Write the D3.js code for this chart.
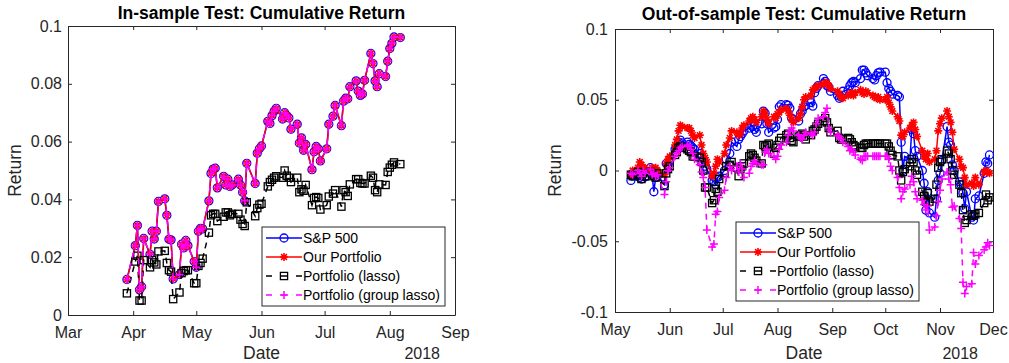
<!DOCTYPE html>
<html>
<head>
<meta charset="utf-8">
<script src="https://cdn.jsdelivr.net/npm/d3@7"></script>
<style>
  body { margin: 0; background: #fff; }
  svg { font-family: "Liberation Sans", Arial, sans-serif; }
</style>
</head>
<body>
<div id="chart"></div>
<script>
// ---- data ----
var holidays = ["2018-03-30", "2018-05-28", "2018-07-04", "2018-09-03", "2018-11-22"];

// in-sample: trading days 2018-03-29 .. 2018-08-06, one row per week
var in_sp500 = [
  0.0123,
  0.0240, 0.0310, 0.0087, 0.0098, 0.0265,
  0.0210, 0.0290, 0.0263, 0.0290, 0.0393,
  0.0402, 0.0345, 0.0262, 0.0260, 0.0125,
  0.0140, 0.0245, 0.0232, 0.0258, 0.0240,
  0.0185, 0.0165, 0.0290, 0.0300, 0.0298,
  0.0395, 0.0490, 0.0505, 0.0508, 0.0440,
  0.0480, 0.0450, 0.0470, 0.0445, 0.0450,
  0.0470, 0.0450, 0.0425, 0.0395, 0.0525,
  0.0455, 0.0560, 0.0575, 0.0585,
  0.0670, 0.0663, 0.0690, 0.0705, 0.0715,
  0.0678, 0.0700, 0.0690, 0.0682, 0.0643,
  0.0660, 0.0595, 0.0613, 0.0570, 0.0590,
  0.0503, 0.0565, 0.0583, 0.0575, 0.0533,
  0.0575, 0.0660, 0.0688, 0.0725,
  0.0655, 0.0740, 0.0750, 0.0748, 0.0790,
  0.0810, 0.0775, 0.0760, 0.0765, 0.0812,
  0.0905, 0.0870, 0.0810, 0.0790, 0.0835,
  0.0825, 0.0878, 0.0922, 0.0940, 0.0962,
  0.0960
];
// our portfolio and group lasso coincide with the index in-sample
var in_ours = in_sp500.slice();
var in_group = in_sp500.slice();
var in_lasso = [
  0.0075,
  0.0185, 0.0205, 0.0050, 0.0050, 0.0190,
  0.0165, 0.0190, 0.0182, 0.0175, 0.0220,
  0.0222, 0.0180, 0.0155, 0.0150, 0.0055,
  0.0078, 0.0145, 0.0152, 0.0155, 0.0155,
  0.0110, 0.0110, 0.0170, 0.0180, 0.0195,
  0.0285, 0.0345, 0.0350, 0.0350, 0.0325,
  0.0340, 0.0355, 0.0355, 0.0345, 0.0350,
  0.0350, 0.0330, 0.0315, 0.0308, 0.0390,
  0.0342, 0.0370, 0.0382, 0.0385,
  0.0445, 0.0460, 0.0468, 0.0475, 0.0480,
  0.0475, 0.0500, 0.0482, 0.0475, 0.0460,
  0.0475, 0.0425, 0.0435, 0.0430, 0.0450,
  0.0380, 0.0405, 0.0408, 0.0405, 0.0365,
  0.0380, 0.0410, 0.0420, 0.0432,
  0.0375, 0.0432, 0.0425, 0.0412, 0.0452,
  0.0470, 0.0470, 0.0457, 0.0455, 0.0455,
  0.0482, 0.0475, 0.0432, 0.0425, 0.0452,
  0.0450, 0.0495, 0.0510, 0.0520, 0.0528,
  0.0522
];

// out-of-sample: trading days 2018-05-10 .. 2018-11-29, one row per week
var out_sp500 = [
  -0.0070, -0.0040,
  -0.0030, -0.0050, -0.0060, -0.0025, -0.0045,
  0.0020, -0.0030, -0.0150, -0.0050, -0.0040,
  -0.0100, 0.0050, 0.0040, 0.0070,
  0.0150, 0.0170, 0.0200, 0.0215, 0.0195,
  0.0200, 0.0185, 0.0175, 0.0160, 0.0150,
  0.0120, 0.0100, 0.0080, 0.0030, 0.0010,
  -0.0070, -0.0080, -0.0100, -0.0050, -0.0040,
  0.0000, 0.0080, 0.0120, 0.0200,
  0.0170, 0.0220, 0.0240, 0.0260, 0.0280,
  0.0300, 0.0320, 0.0310, 0.0290, 0.0270,
  0.0330, 0.0420, 0.0405, 0.0330, 0.0270,
  0.0300, 0.0310, 0.0360, 0.0450, 0.0465,
  0.0465, 0.0460, 0.0440, 0.0370, 0.0360,
  0.0350, 0.0400, 0.0420, 0.0450, 0.0460,
  0.0480, 0.0455, 0.0550, 0.0580, 0.0600,
  0.0650, 0.0630, 0.0600, 0.0590, 0.0560,
  0.0530, 0.0510, 0.0520, 0.0560,
  0.0570, 0.0600, 0.0620, 0.0630, 0.0620,
  0.0650, 0.0710, 0.0710, 0.0690, 0.0670,
  0.0650, 0.0640, 0.0670, 0.0690, 0.0695,
  0.0695, 0.0620, 0.0580, 0.0560, 0.0540,
  0.0530, 0.0520, 0.0200, 0.0000, 0.0100,
  0.0080, 0.0290, 0.0260, 0.0140, 0.0100,
  0.0000, -0.0090, -0.0280, -0.0150, -0.0300,
  -0.0330, -0.0200, -0.0070, -0.0020, 0.0070,
  0.0310, 0.0200, 0.0180, 0.0040, 0.0000,
  -0.0080, -0.0100, -0.0160, -0.0270, -0.0150,
  -0.0330, -0.0350, -0.0200, -0.0180,
  -0.0020, 0.0060, 0.0050, 0.0110
];
var out_ours = [
  -0.0030, 0.0000,
  0.0020, 0.0060, 0.0040, 0.0010, 0.0020,
  0.0000, 0.0020, 0.0010, 0.0020, 0.0000,
  -0.0030, 0.0050, 0.0080, 0.0100,
  0.0180, 0.0220, 0.0280, 0.0320, 0.0310,
  0.0300, 0.0300, 0.0280, 0.0250, 0.0230,
  0.0250, 0.0180, 0.0120, 0.0090, 0.0060,
  -0.0040, -0.0020, 0.0030, 0.0080, 0.0060,
  0.0120, 0.0180, 0.0230, 0.0280,
  0.0270, 0.0250, 0.0260, 0.0300, 0.0320,
  0.0350, 0.0370, 0.0380, 0.0360, 0.0340,
  0.0380, 0.0420, 0.0400, 0.0360, 0.0330,
  0.0380, 0.0370, 0.0400, 0.0410, 0.0430,
  0.0440, 0.0420, 0.0390, 0.0360, 0.0340,
  0.0370, 0.0400, 0.0450, 0.0500, 0.0520,
  0.0530, 0.0570, 0.0580, 0.0590, 0.0600,
  0.0610, 0.0620, 0.0620, 0.0600, 0.0580,
  0.0560, 0.0540, 0.0520, 0.0510,
  0.0530, 0.0540, 0.0550, 0.0530, 0.0550,
  0.0570, 0.0550, 0.0540, 0.0560, 0.0550,
  0.0530, 0.0520, 0.0510, 0.0520, 0.0500,
  0.0500, 0.0520, 0.0480, 0.0450, 0.0420,
  0.0380, 0.0350, 0.0250, 0.0240, 0.0270,
  0.0300, 0.0320, 0.0340, 0.0290, 0.0240,
  0.0140, 0.0100, 0.0080, 0.0120, 0.0060,
  0.0080, 0.0140, 0.0280, 0.0330, 0.0370,
  0.0420, 0.0380, 0.0340, 0.0270, 0.0150,
  0.0080, 0.0030, 0.0020, -0.0050, -0.0100,
  -0.0090, -0.0110, -0.0050, -0.0100,
  -0.0010, 0.0000, -0.0010, -0.0020
];
var out_lasso = [
  -0.0030, -0.0040,
  -0.0010, -0.0040, -0.0060, -0.0020, -0.0040,
  -0.0010, -0.0040, -0.0030, -0.0050, -0.0020,
  -0.0110, -0.0020, 0.0010, 0.0030,
  0.0110, 0.0130, 0.0160, 0.0170, 0.0160,
  0.0150, 0.0140, 0.0130, 0.0100, 0.0100,
  0.0090, 0.0060, 0.0000, -0.0120, -0.0120,
  -0.0230, -0.0210, -0.0130, -0.0150, -0.0060,
  -0.0020, 0.0030, 0.0040, 0.0060,
  0.0020, -0.0040, 0.0010, 0.0030, 0.0050,
  0.0100, 0.0120, 0.0110, 0.0090, 0.0070,
  0.0050, 0.0180, 0.0170, 0.0180, 0.0190,
  0.0120, 0.0160, 0.0180, 0.0210, 0.0230,
  0.0250, 0.0260, 0.0230, 0.0210, 0.0200,
  0.0240, 0.0250, 0.0260, 0.0240, 0.0220,
  0.0250, 0.0280, 0.0290, 0.0310, 0.0330,
  0.0350, 0.0370, 0.0340, 0.0300, 0.0270,
  0.0280, 0.0230, 0.0220, 0.0220,
  0.0230, 0.0220, 0.0200, 0.0180, 0.0170,
  0.0160, 0.0160, 0.0180, 0.0190, 0.0190,
  0.0190, 0.0190, 0.0190, 0.0190, 0.0190,
  0.0190, 0.0190, 0.0170, 0.0140, 0.0110,
  0.0100, 0.0000, -0.0070, -0.0010, 0.0010,
  0.0030, 0.0080, 0.0060, 0.0000, -0.0030,
  -0.0150, -0.0180, -0.0220, -0.0160, -0.0220,
  -0.0200, -0.0100, 0.0020, 0.0060, 0.0080,
  0.0140, 0.0120, 0.0080, 0.0000, -0.0030,
  -0.0100, -0.0160, -0.0280, -0.0370, -0.0350,
  -0.0310, -0.0320, -0.0310, -0.0300,
  -0.0230, -0.0170, -0.0210, -0.0190
];
var out_group = [
  -0.0020, -0.0030,
  0.0000, -0.0020, -0.0040, 0.0000, -0.0020,
  0.0010, -0.0030, -0.0020, -0.0040, -0.0030,
  -0.0170, -0.0080, 0.0000, 0.0020,
  0.0100, 0.0120, 0.0140, 0.0160, 0.0170,
  0.0180, 0.0170, 0.0150, 0.0120, 0.0080,
  0.0040, -0.0010, -0.0050, -0.0120, -0.0420,
  -0.0540, -0.0520, -0.0310, -0.0290, -0.0190,
  -0.0140, -0.0050, 0.0030, 0.0000,
  0.0030, -0.0010, 0.0050, 0.0010, -0.0050,
  -0.0020, 0.0030, 0.0050, 0.0070, 0.0050,
  0.0040, 0.0040, 0.0130, 0.0150, 0.0120,
  0.0100, 0.0080, 0.0100, 0.0150, 0.0180,
  0.0200, 0.0250, 0.0280, 0.0300, 0.0280,
  0.0250, 0.0230, 0.0220, 0.0250, 0.0270,
  0.0260, 0.0250, 0.0270, 0.0330, 0.0370,
  0.0380, 0.0410, 0.0440, 0.0300, 0.0270,
  0.0250, 0.0240, 0.0220, 0.0200,
  0.0170, 0.0140, 0.0150, 0.0130, 0.0110,
  0.0080, 0.0070, 0.0100, 0.0100, 0.0100,
  0.0100, 0.0100, 0.0100, 0.0100, 0.0100,
  0.0100, 0.0100, 0.0080, 0.0030, 0.0000,
  -0.0050, -0.0120, -0.0200, -0.0150, -0.0130,
  -0.0100, -0.0040, -0.0080, -0.0150, -0.0200,
  -0.0210, -0.0240, -0.0280, -0.0250, -0.0420,
  -0.0400, -0.0320, -0.0220, -0.0140, -0.0060,
  -0.0010, -0.0060, -0.0100, -0.0260, -0.0250,
  -0.0340, -0.0410, -0.0790, -0.0870, -0.0820,
  -0.0800, -0.0580, -0.0660, -0.0600,
  -0.0560, -0.0540, -0.0510, -0.0530
];

var series_names = ["S&P 500", "Our Portfolio", "Portfolio (lasso)", "Portfolio (group lasso)"];
var in_ticks_y = [0, 0.02, 0.04, 0.06, 0.08, 0.1];
var out_ticks_y = [-0.1, -0.05, 0, 0.05, 0.1];

// ---- helpers ----
var parse = d3.timeParse("%Y-%m-%d");
var fmt = d3.timeFormat("%Y-%m-%d");

function tradingDays(start, end) {
    return d3.timeDays(parse(start), d3.timeDay.offset(parse(end), 1))
        .filter(d => d.getDay() != 0 && d.getDay() != 6 && holidays.indexOf(fmt(d)) < 0);
}

var styles = [
    {color: "#0000ff", dash: null, legendDash: null, marker: "circle"},
    {color: "#ff0000", dash: null, legendDash: null, marker: "star"},
    {color: "#000000", dash: "6,5", legendDash: "6,9", marker: "square"},
    {color: "#ff00ff", dash: "6,5", legendDash: "6,9", marker: "plus"}
];

function drawMarker(g, type, color) {
    if (type == "circle") {
        g.append("circle").attr("r", 4).attr("fill", "none")
            .attr("stroke", color).attr("stroke-width", 1.3);
    } else if (type == "square") {
        g.append("rect").attr("x", -3.6).attr("y", -3.6).attr("width", 7.2).attr("height", 7.2)
            .attr("fill", "none").attr("stroke", color).attr("stroke-width", 1.3);
    } else if (type == "plus") {
        g.append("path").attr("d", "M-4,0H4M0,-4V4")
            .attr("stroke", color).attr("stroke-width", 1.5);
    } else {
        g.append("path").attr("d", "M-4,0H4M0,-4V4M-2.9,-2.9L2.9,2.9M-2.9,2.9L2.9,-2.9")
            .attr("stroke", color).attr("stroke-width", 1.6);
    }
}

var svg = d3.select("#chart").append("svg")
    .attr("width", 1009).attr("height", 363);

function drawPanel(cfg) {
    var x = d3.scaleTime().domain(cfg.xdomain.map(parse)).range([cfg.left, cfg.right]);
    var y = d3.scaleLinear().domain(cfg.ydomain).range([cfg.bottom, cfg.top]);
    var months = d3.timeMonths(parse(cfg.xdomain[0]), d3.timeDay.offset(parse(cfg.xdomain[1]), 1));
    var g = svg.append("g");
    var axisColor = "#262626";

    // plot box with inward ticks on all sides
    g.append("g").attr("transform", `translate(0,${cfg.bottom})`)
        .call(d3.axisBottom(x).tickValues(months).tickFormat(d3.timeFormat("%b"))
            .tickSizeInner(-4).tickSizeOuter(0).tickPadding(12));
    g.append("g").attr("transform", `translate(0,${cfg.top})`)
        .call(d3.axisTop(x).tickValues(months).tickFormat("")
            .tickSizeInner(-4).tickSizeOuter(0));
    g.append("g").attr("transform", `translate(${cfg.left},0)`)
        .call(d3.axisLeft(y).tickValues(cfg.yticks).tickFormat(d => String(+d.toFixed(2)))
            .tickSizeInner(-4).tickSizeOuter(0).tickPadding(cfg.ypad));
    g.append("g").attr("transform", `translate(${cfg.right},0)`)
        .call(d3.axisRight(y).tickValues(cfg.yticks).tickFormat("")
            .tickSizeInner(-4).tickSizeOuter(0));
    g.selectAll(".domain, .tick line").attr("stroke", axisColor).attr("stroke-width", 1);
    g.selectAll(".tick text").attr("fill", axisColor)
        .style("font-size", "16px").style("font-family", "Liberation Sans, Arial, sans-serif");

    // series
    var dates = tradingDays(cfg.start, cfg.end);
    cfg.series.forEach(function(vals, i) {
        var st = styles[i];
        var pts = vals.map((v, k) => [x(dates[k]), y(v)]);
        var sg = g.append("g");
        sg.append("path").attr("d", d3.line()(pts)).attr("fill", "none")
            .attr("stroke", st.color).attr("stroke-width", 1.5)
            .attr("stroke-dasharray", st.dash);
        pts.forEach(function(p) {
            drawMarker(sg.append("g").attr("transform", `translate(${p[0]},${p[1]})`), st.marker, st.color);
        });
    });

    // titles and labels
    g.append("text").attr("x", (cfg.left + cfg.right) / 2).attr("y", cfg.titleY)
        .attr("text-anchor", "middle").style("font-size", "17.5px").style("font-weight", "bold")
        .text(cfg.title);
    g.append("text").attr("x", (cfg.left + cfg.right) / 2).attr("y", 359)
        .attr("text-anchor", "middle").attr("fill", axisColor).style("font-size", "17.5px")
        .text("Date");
    g.append("text").attr("x", cfg.right - 15).attr("y", 359)
        .attr("text-anchor", "end").attr("fill", axisColor).style("font-size", "16px")
        .text("2018");
    g.append("text")
        .attr("transform", `translate(${cfg.ylabelX},${(cfg.top + cfg.bottom) / 2}) rotate(-90)`)
        .attr("text-anchor", "middle").attr("fill", axisColor).style("font-size", "17.5px")
        .text("Return");

    // legend
    var lg = g.append("g").attr("transform", `translate(${cfg.legend[0]},${cfg.legend[1]})`);
    lg.append("rect").attr("width", 183).attr("height", 79)
        .attr("fill", "#fff").attr("stroke", axisColor).attr("stroke-width", 1);
    series_names.forEach(function(name, i) {
        var st = styles[i];
        var row = lg.append("g").attr("transform", `translate(0,${11 + i * 19})`);
        row.append("line").attr("x1", 4).attr("x2", 40)
            .attr("stroke", st.color).attr("stroke-width", 1.5).attr("stroke-dasharray", st.legendDash);
        drawMarker(row.append("g").attr("transform", "translate(22,0)"), st.marker, st.color);
        row.append("text").attr("x", 41).attr("y", 5).style("font-size", "14px").text(name);
    });
}

drawPanel({
    left: 68, right: 455, top: 26, bottom: 315,
    xdomain: ["2018-03-01", "2018-09-01"], ydomain: [0, 0.1], yticks: in_ticks_y, ypad: 6,
    start: "2018-03-29", end: "2018-08-06",
    series: [in_sp500, in_ours, in_lasso, in_group],
    title: "In-sample Test: Cumulative Return", titleY: 19, ylabelX: 21,
    legend: [262, 227]
});

drawPanel({
    left: 615, right: 993, top: 29, bottom: 312,
    xdomain: ["2018-05-01", "2018-12-01"], ydomain: [-0.1, 0.1], yticks: out_ticks_y, ypad: 7,
    start: "2018-05-10", end: "2018-11-29",
    series: [out_sp500, out_ours, out_lasso, out_group],
    title: "Out-of-sample Test: Cumulative Return", titleY: 20, ylabelX: 561,
    legend: [736, 222]
});
</script>
</body>
</html>
